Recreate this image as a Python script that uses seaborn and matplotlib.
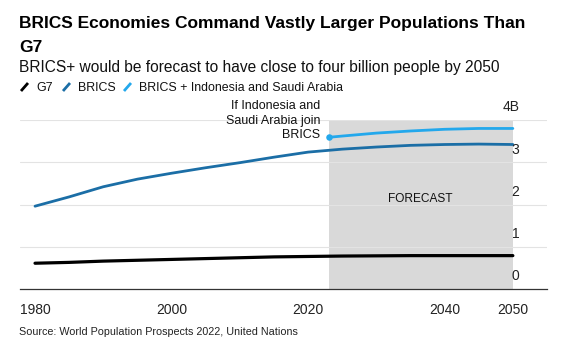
import matplotlib
matplotlib.use("Agg")
import matplotlib.pyplot as plt
from matplotlib.lines import Line2D
import seaborn as sns
import pandas as pd

years = [1980, 1985, 1990, 1995, 2000, 2005, 2010, 2015, 2020, 2025, 2030, 2035, 2040, 2045, 2050]
brics = [1.96, 2.18, 2.42, 2.60, 2.74, 2.87, 2.99, 3.12, 3.24, 3.31, 3.36, 3.40, 3.42, 3.43, 3.42]
g7 = [0.61, 0.63, 0.66, 0.68, 0.70, 0.72, 0.74, 0.76, 0.77, 0.78, 0.785, 0.79, 0.79, 0.79, 0.79]
plus_years = [2023, 2025, 2030, 2035, 2040, 2045, 2050]
brics_plus = [3.59, 3.62, 3.69, 3.74, 3.78, 3.80, 3.80]
xticks = [1980, 2000, 2020, 2040, 2050]
yticks = [0, 1, 2, 3, 4]
ytick_labels = ["0", "1", "2", "3", "4B"]
forecast_start, forecast_end = 2023, 2050

C_G7 = "#000000"
C_BRICS = "#1b6ea6"
C_PLUS = "#23a8ec"

sns.set_theme(style="white")
plt.rcParams["font.family"] = ["Liberation Sans", "DejaVu Sans"]

fig = plt.figure(figsize=(5.73, 3.55), dpi=100)
W, H = 573, 355
ax = fig.add_axes([20 / W, 1 - 289 / H, (547 - 20) / W, (289 - 120) / H])

df = pd.DataFrame({"year": years, "BRICS": brics, "G7": g7})
dfp = pd.DataFrame({"year": plus_years, "plus": brics_plus})

ax.axvspan(forecast_start, forecast_end, ymin=0, ymax=1, color="#d9d9d9", lw=0, zorder=0)
for yv in yticks[1:]:
    ax.axhline(yv, color="#e3e3e3", lw=0.8, zorder=0.5)

sns.lineplot(data=df, x="year", y="G7", ax=ax, color=C_G7, lw=2.3, zorder=3)
sns.lineplot(data=df, x="year", y="BRICS", ax=ax, color=C_BRICS, lw=2.0, zorder=3)
sns.lineplot(data=dfp, x="year", y="plus", ax=ax, color=C_PLUS, lw=2.0, zorder=3)
ax.scatter([plus_years[0]], [brics_plus[0]], s=22, color=C_PLUS, zorder=4, lw=0)

ax.set_xlim(1977.8, 2055.0)
ax.set_ylim(0, 4)
ax.set_xlabel("")
ax.set_ylabel("")
ax.set_xticks(xticks)
ax.set_xticklabels([str(x) for x in xticks], fontsize=10, color="#222222")
ax.set_yticks([])
ax.tick_params(axis="x", direction="out", length=4, width=0.8, color="#333333", pad=6)
for s in ["top", "left", "right"]:
    ax.spines[s].set_visible(False)
ax.spines["bottom"].set_color("#333333")
ax.spines["bottom"].set_linewidth(0.9)

for yv, lab in zip(yticks, ytick_labels):
    ax.annotate(lab, xy=(1.0, yv), xycoords=("axes fraction", "data"),
                xytext=(-20, 4), textcoords="offset points",
                ha="right", va="bottom", fontsize=10, color="#222222")

ax.annotate("If Indonesia and\nSaudi Arabia join\nBRICS", xy=(plus_years[0], brics_plus[0]),
            xytext=(-6, -3), textcoords="offset points", ha="right", va="bottom",
            fontsize=9, color="#111111", linespacing=1.32)
ax.text((forecast_start + forecast_end) / 2, 2.13, "FORECAST", ha="center", va="center",
        fontsize=8.6, color="#111111")

fig.text(19 / W, 1 - 28 / H, "BRICS Economies Command Vastly Larger Populations Than",
         fontsize=12.5, fontweight="bold", ha="left", va="baseline", color="#000000")
fig.text(19 / W, 1 - 52 / H, "G7",
         fontsize=12.5, fontweight="bold", ha="left", va="baseline", color="#000000")
fig.text(19 / W, 1 - 72 / H, "BRICS+ would be forecast to have close to four billion people by 2050",
         fontsize=11.2, ha="left", va="baseline", color="#111111")

leg_y = 1 - 91 / H
items = [("G7", C_G7, 20), ("BRICS", C_BRICS, 62), ("BRICS + Indonesia and Saudi Arabia", C_PLUS, 123)]
for lab, col, x0 in items:
    fig.add_artist(Line2D([(x0 + 1) / W, (x0 + 8) / W], [1 - 91 / H, 1 - 83 / H],
                          transform=fig.transFigure, color=col, lw=2.0, solid_capstyle="butt"))
    fig.text((x0 + 16) / W, leg_y, lab, fontsize=8.9, ha="left", va="baseline", color="#111111")

fig.text(19 / W, 1 - 335 / H, "Source: World Population Prospects 2022, United Nations",
         fontsize=7.75, ha="left", va="baseline", color="#222222")

fig.savefig("out.png", dpi=100)
